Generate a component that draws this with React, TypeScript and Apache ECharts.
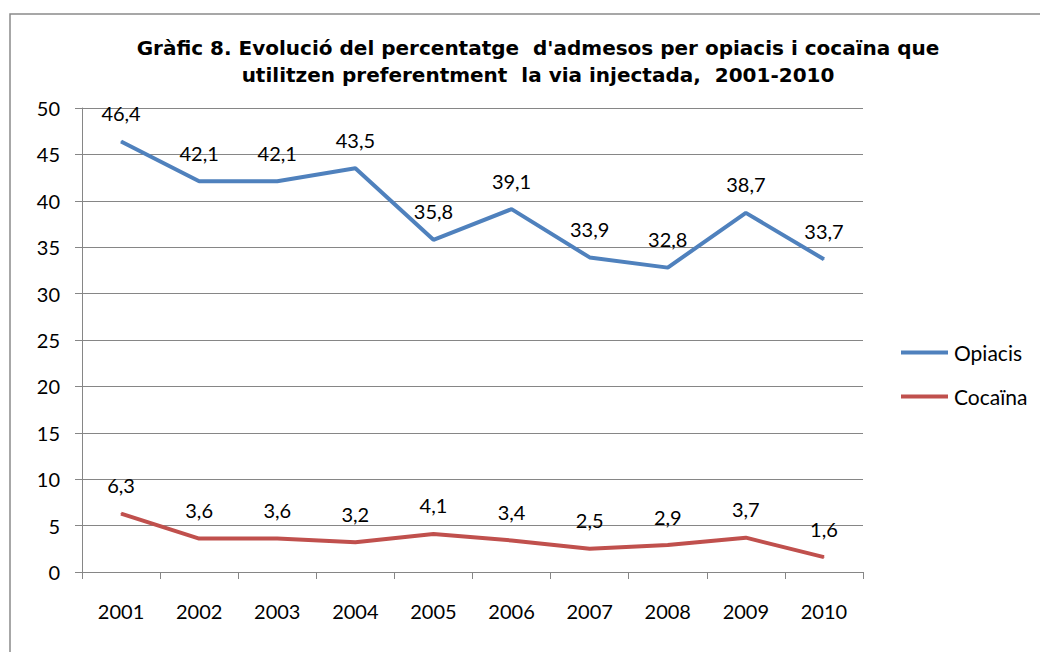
import React, { useEffect, useRef } from "react";
import * as echarts from "echarts";

const years = ["2001", "2002", "2003", "2004", "2005", "2006", "2007", "2008", "2009", "2010"];
const opiacis = [46.4, 42.1, 42.1, 43.5, 35.8, 39.1, 33.9, 32.8, 38.7, 33.7];
const cocaina = [6.3, 3.6, 3.6, 3.2, 4.1, 3.4, 2.5, 2.9, 3.7, 1.6];
const titleLines = [
  "Gràfic 8. Evolució del percentatge  d'admesos per opiacis i cocaïna que",
  "utilitzen preferentment  la via injectada,  2001-2010",
];

const BLUE = "#4F81BD";
const RED = "#C0504D";
const GRID = "#868686";
const FONT = "Lato, 'Open Sans', sans-serif";

export default function App() {
  const ref = useRef<HTMLDivElement>(null);
  useEffect(() => {
    document.body.style.margin = "0";
    const chart = echarts.init(ref.current!, undefined, { renderer: "svg" });
    const fmt = (p: any) => String(p.value).replace(".", ",");
    const label = {
      show: true,
      position: "top",
      distance: 18,
      fontSize: 20,
      fontFamily: FONT,
      color: "#000",
      formatter: fmt,
    };
    chart.setOption({
      animation: false,
      backgroundColor: "#fff",
      title: {
        text: titleLines.join("\n"),
        left: 533,
        textAlign: "center",
        top: 29,
        textStyle: {
          fontFamily: "'DejaVu Sans', 'Liberation Sans', sans-serif",
          fontWeight: "bold",
          fontSize: 20,
          lineHeight: 27,
          color: "#000",
        },
      },
      graphic: [
        {
          type: "rect",
          shape: { x: 10, y: 14, width: 1100, height: 700 },
          style: { fill: "none", stroke: "#8a8a8a", lineWidth: 1.5 },
          silent: true,
          z: -1,
        },
      ],
      legend: {
        orient: "vertical",
        left: 901,
        top: 342,
        padding: 0,
        itemWidth: 47,
        itemHeight: 4,
        itemGap: 23,
        icon: "rect",
        textStyle: { fontFamily: FONT, fontSize: 21, color: "#000", padding: [0, 0, 0, 1] },
        data: [
          { name: "Opiacis", itemStyle: { color: BLUE } },
          { name: "Cocaïna", itemStyle: { color: RED } },
        ],
      },
      grid: { left: 82, right: 177, top: 108, bottom: 80 },
      xAxis: {
        type: "category",
        data: years,
        boundaryGap: true,
        axisLine: { lineStyle: { color: GRID, width: 1 } },
        axisTick: { show: true, length: 7, lineStyle: { color: GRID } },
        axisLabel: { fontFamily: FONT, fontSize: 20, color: "#000", margin: 29 },
      },
      yAxis: {
        type: "value",
        min: 0,
        max: 50,
        interval: 5,
        axisLine: { show: true, lineStyle: { color: GRID, width: 1 } },
        axisTick: { show: true, length: 7, lineStyle: { color: GRID } },
        splitLine: { lineStyle: { color: GRID, width: 1 } },
        axisLabel: { fontFamily: FONT, fontSize: 20, color: "#000", margin: 22 },
      },
      series: [
        {
          name: "Opiacis",
          type: "line",
          data: opiacis,
          symbol: "circle",
          symbolSize: 1,
          showSymbol: true,
          lineStyle: { color: BLUE, width: 4 },
          itemStyle: { color: BLUE },
          label,
        },
        {
          name: "Cocaïna",
          type: "line",
          data: cocaina,
          symbol: "circle",
          symbolSize: 1,
          showSymbol: true,
          lineStyle: { color: RED, width: 4 },
          itemStyle: { color: RED },
          label,
        },
      ],
    });
    return () => chart.dispose();
  }, []);
  return <div ref={ref} style={{ width: 1040, height: 652 }} />;
}
